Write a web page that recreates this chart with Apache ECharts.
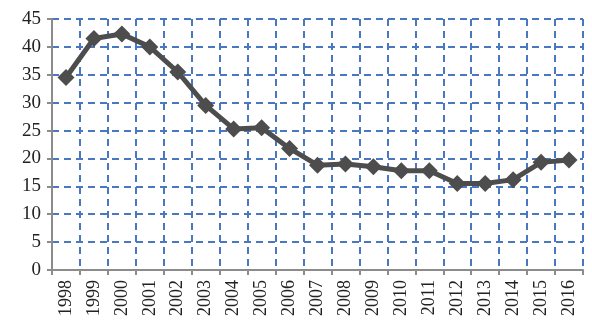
<!DOCTYPE html>
<html><head><meta charset="utf-8">
<script src="https://cdn.jsdelivr.net/npm/echarts@6/dist/echarts.min.js"></script>
<style>html,body{margin:0;padding:0;background:#fff}#c{width:592px;height:324px}</style>
</head><body><div id="c"></div>
<script>
const years = ['1998','1999','2000','2001','2002','2003','2004','2005','2006','2007','2008','2009','2010','2011','2012','2013','2014','2015','2016'];
const values = [34.5,41.5,42.3,40,35.5,29.5,25.3,25.5,21.8,18.8,19,18.5,17.8,17.8,15.5,15.5,16.2,19.3,19.7];
const yMin = 0, yMax = 45, yStep = 5;

const chart = echarts.init(document.getElementById('c'));
const gridLine = {show:true, lineStyle:{color:'#4a78c0', width:2, type:[7,5]}};
chart.setOption({
  animation:false,
  grid:{left:52, top:19, right:9, bottom:54, containLabel:false},
  xAxis:{type:'category', data:years, boundaryGap:true,
    axisLine:{lineStyle:{color:'#8c8c8c', width:2}},
    axisTick:{show:true, length:5, lineStyle:{color:'#8c8c8c', width:2}},
    splitLine:gridLine,
    axisLabel:{rotate:90, color:'#222', fontFamily:'Liberation Serif', fontSize:18, margin:10, interval:0}},
  yAxis:{type:'value', min:yMin, max:yMax, interval:yStep,
    axisLine:{show:true, lineStyle:{color:'#8c8c8c', width:2}},
    axisTick:{show:true, length:5, lineStyle:{color:'#8c8c8c', width:2}},
    splitLine:gridLine,
    axisLabel:{color:'#222', fontFamily:'Liberation Serif', fontSize:19, margin:11}},
  series:[{type:'line', data:values, symbol:'diamond', symbolSize:17,
    lineStyle:{color:'#4d4d4d', width:5},
    itemStyle:{color:'#4d4d4d'}}]
});
</script></body></html>
